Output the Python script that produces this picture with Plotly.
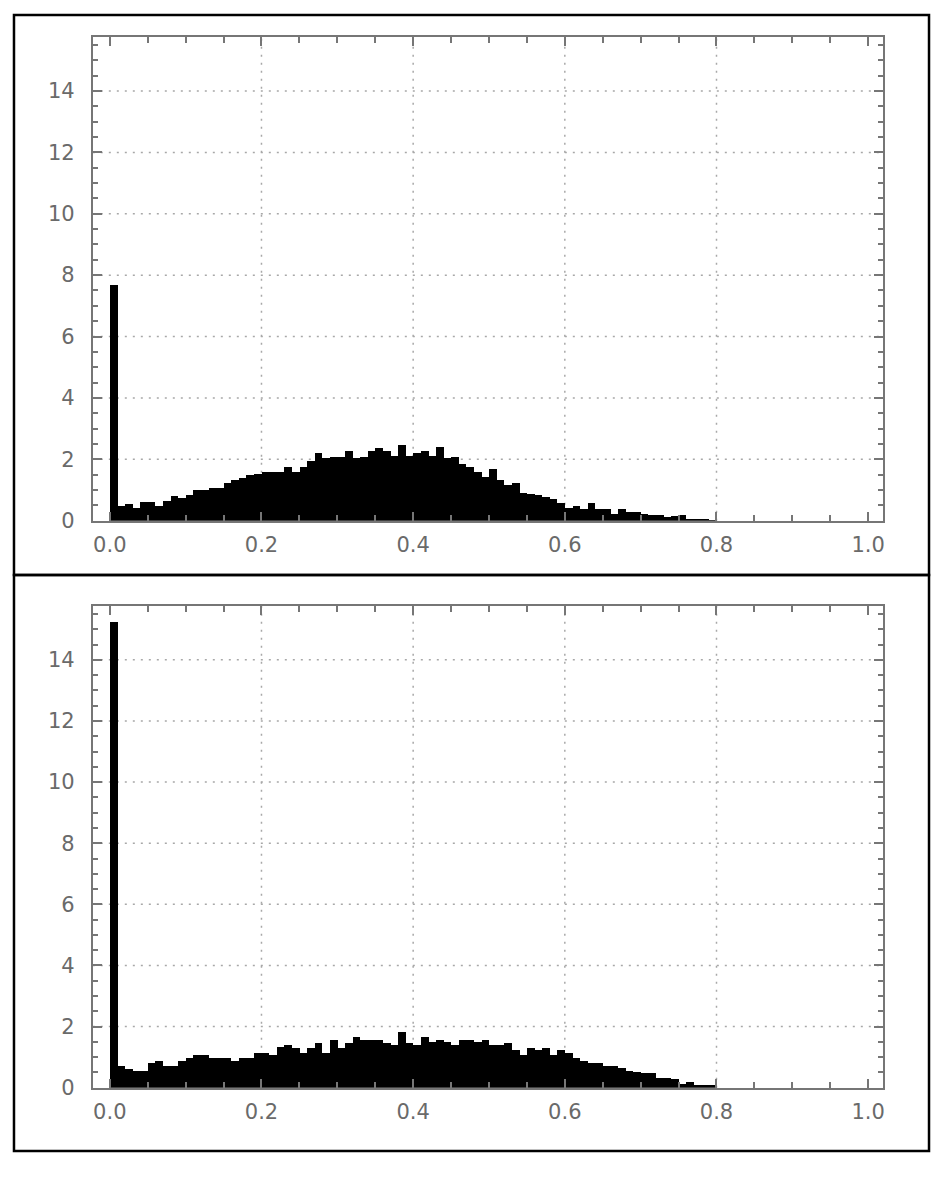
import numpy as np
import plotly.graph_objects as go

# bin starts, width 0.01
bin_width = 0.01
bin_left = np.round(np.arange(0, 0.80, bin_width), 2)

top_density = [7.7, 0.48, 0.56, 0.41, 0.63, 0.63, 0.48, 0.66, 0.81, 0.75,
               0.84, 1.0, 1.0, 1.09, 1.09, 1.24, 1.32, 1.41, 1.5, 1.52,
               1.59, 1.6, 1.61, 1.77, 1.61, 1.77, 1.95, 2.2, 2.05, 2.1,
               2.1, 2.29, 2.05, 2.1, 2.29, 2.38, 2.29, 2.13, 2.47, 2.13,
               2.2, 2.29, 2.13, 2.4, 2.05, 2.1, 1.86, 1.77, 1.59, 1.43,
               1.69, 1.34, 1.18, 1.25, 0.91, 0.89, 0.84, 0.78, 0.73, 0.57,
               0.43, 0.48, 0.39, 0.57, 0.39, 0.39, 0.22, 0.39, 0.28, 0.28,
               0.22, 0.19, 0.19, 0.13, 0.16, 0.19, 0.05, 0.06, 0.05, 0.03]

bottom_density = [15.25, 0.72, 0.61, 0.56, 0.56, 0.81, 0.88, 0.72, 0.72, 0.89,
                  0.97, 1.08, 1.08, 0.97, 0.97, 0.97, 0.89, 0.97, 0.97, 1.15,
                  1.15, 1.08, 1.34, 1.4, 1.32, 1.15, 1.32, 1.48, 1.15, 1.58,
                  1.32, 1.48, 1.67, 1.56, 1.56, 1.56, 1.48, 1.42, 1.83, 1.48,
                  1.42, 1.67, 1.5, 1.58, 1.5, 1.42, 1.58, 1.58, 1.5, 1.58,
                  1.42, 1.42, 1.48, 1.24, 1.08, 1.32, 1.24, 1.32, 1.08, 1.24,
                  1.15, 0.97, 0.89, 0.81, 0.81, 0.72, 0.72, 0.65, 0.54, 0.51,
                  0.48, 0.48, 0.32, 0.32, 0.3, 0.14, 0.19, 0.11, 0.11, 0.11]

x_ticks = [0.0, 0.2, 0.4, 0.6, 0.8, 1.0]
x_tick_labels = ["0.0", "0.2", "0.4", "0.6", "0.8", "1.0"]
y_ticks = [0, 2, 4, 6, 8, 10, 12, 14]
x_grid = [0.2, 0.4, 0.6, 0.8]
y_grid = [2, 4, 6, 8, 10, 12, 14]

# page has an 8px body margin; keep the figure small enough to avoid scrolling
OFF = 8
W, H = 947 - 2 * OFF, 1177 - 2 * OFF
FRAME = "#767676"
LABEL = "#6a6a6a"
GRID = "#a8a8a8"


def px_x(p):
    return (p - OFF) / W


def px_y(p):
    return 1 - (p - OFF) / H


fig = go.Figure()

panels = [("x", "y", top_density), ("x2", "y2", bottom_density)]
for xa, ya, dens in panels:
    fig.add_trace(go.Bar(
        x=bin_left, y=dens, width=bin_width, offset=0,
        marker=dict(color="black", line=dict(width=0)),
        xaxis=xa, yaxis=ya, showlegend=False, hoverinfo="x+y"
    ))

xdom = [px_x(93), px_x(885)]
ydoms = [[px_y(526), px_y(37)], [px_y(1099), px_y(612)]]

axis_font = dict(family="DejaVu Sans", size=21, color=LABEL)
xcommon = dict(
    domain=xdom, range=[-0.0224, 1.0197],
    tickvals=x_ticks, ticktext=x_tick_labels,
    ticks="inside", ticklen=9, tickwidth=2, tickcolor=FRAME,
    minor=dict(ticks="inside", dtick=0.05, tick0=0, ticklen=6, tickwidth=1.5,
               tickcolor=FRAME, showgrid=False),
    showline=True, linecolor=FRAME, linewidth=2, mirror="ticks",
    showgrid=False, zeroline=False, tickfont=axis_font, ticklabelstandoff=4,
    fixedrange=True,
)
ycommon = dict(
    range=[0, 15.77],
    tickvals=y_ticks,
    ticks="inside", ticklen=9, tickwidth=2, tickcolor=FRAME,
    minor=dict(ticks="inside", dtick=0.5, tick0=0, ticklen=5, tickwidth=1.5,
               tickcolor=FRAME, showgrid=False),
    showline=True, linecolor=FRAME, linewidth=2, mirror="ticks",
    showgrid=False, zeroline=False, tickfont=axis_font, ticklabelstandoff=12,
    fixedrange=True,
)

fig.update_layout(
    xaxis=dict(**xcommon, anchor="y"),
    yaxis=dict(**ycommon, domain=ydoms[0], anchor="x"),
    xaxis2=dict(**xcommon, anchor="y2"),
    yaxis2=dict(**ycommon, domain=ydoms[1], anchor="x2"),
)

shapes = []
# dotted grid lines
for xr, yr in [("x", "y"), ("x2", "y2")]:
    for gx in x_grid:
        shapes.append(dict(type="line", xref=xr, yref=yr + " domain", x0=gx, x1=gx,
                           y0=0, y1=1, layer="below",
                           line=dict(color=GRID, width=1.5, dash="2px,6px")))
    for gy in y_grid:
        shapes.append(dict(type="line", xref=xr + " domain", yref=yr, x0=0, x1=1,
                           y0=gy, y1=gy, layer="below",
                           line=dict(color=GRID, width=1.5, dash="2px,6px")))

# outer panel boxes
for y_top, y_bot in [(15, 581), (581, 1163)]:
    shapes.append(dict(type="rect", xref="paper", yref="paper",
                       x0=px_x(14), x1=px_x(931), y0=px_y(y_bot), y1=px_y(y_top),
                       line=dict(color="black", width=2.5), fillcolor="rgba(0,0,0,0)"))

fig.update_layout(
    width=W, height=H,
    margin=dict(l=0, r=0, t=0, b=0),
    paper_bgcolor="white", plot_bgcolor="white",
    bargap=0, shapes=shapes, showlegend=False,
)

fig.write_html("out.html")
